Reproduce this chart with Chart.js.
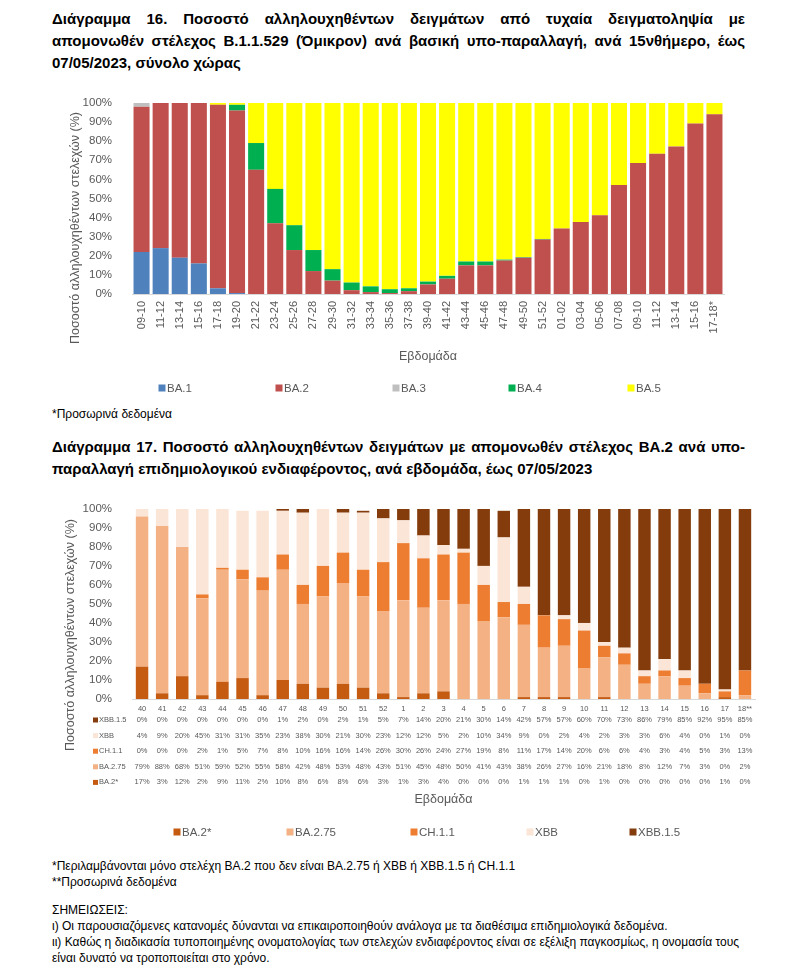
<!DOCTYPE html>
<html lang="el">
<head>
<meta charset="utf-8">
<script src="https://cdn.jsdelivr.net/npm/chart.js@4.4.1/dist/chart.umd.min.js"></script>
<style>
  body { margin:0; background:#fff; width:800px; height:979px; position:relative; overflow:hidden;
         font-family:'Liberation Sans Narrow','Liberation Sans',Arial,sans-serif; color:#000; }
  .title { position:absolute; left:52px; width:693px; font-weight:bold; font-size:15px; line-height:22px; }
  .title .ln { display:block; text-align:justify; text-align-last:justify; }
  .title .last { text-align-last:left; }
  .note { position:absolute; left:52px; width:700px; font-size:12px; line-height:16px; }
  .box { position:absolute; left:0; width:800px; }
</style>
</head>
<body>

<div class="title" style="top:8px">
  <span class="ln">Διάγραμμα 16. Ποσοστό αλληλουχηθέντων δειγμάτων από τυχαία δειγματοληψία με</span>
  <span class="ln">απομονωθέν στέλεχος B.1.1.529 (Όμικρον) ανά βασική υπο-παραλλαγή, ανά 15νθήμερο, έως</span>
  <span class="ln last">07/05/2023, σύνολο χώρας</span>
</div>

<div class="box" style="top:84px;height:316px"><canvas id="c16"></canvas></div>

<div class="note" style="top:406px">*Προσωρινά δεδομένα</div>

<div class="title" style="top:436px">
  <span class="ln">Διάγραμμα 17. Ποσοστό αλληλουχηθέντων δειγμάτων με απομονωθέν στέλεχος BA.2 ανά υπο-</span>
  <span class="ln last">παραλλαγή επιδημιολογικού ενδιαφέροντος, ανά εβδομάδα, έως 07/05/2023</span>
</div>

<div class="box" style="top:490px;height:355px"><canvas id="c17"></canvas></div>

<div class="note" style="top:858px">
  *Περιλαμβάνονται μόνο στελέχη BA.2 που δεν είναι BA.2.75 ή XBB ή XBB.1.5 ή CH.1.1<br>
  **Προσωρινά δεδομένα<br>
  <div style="height:12px"></div>
  ΣΗΜΕΙΩΣΕΙΣ:<br>
  ι) Οι παρουσιαζόμενες κατανομές δύνανται να επικαιροποιηθούν ανάλογα με τα διαθέσιμα επιδημιολογικά δεδομένα.<br>
  ιι) Καθώς η διαδικασία τυποποιημένης ονοματολογίας των στελεχών ενδιαφέροντος είναι σε εξέλιξη παγκοσμίως, η ονομασία τους<br>
  είναι δυνατό να τροποποιείται στο χρόνο.
</div>

<script>
// ---- Διάγραμμα 16 data (15-day periods)
const periods = ['09-10','11-12','13-14','15-16','17-18','19-20','21-22','23-24','25-26','27-28','29-30',
  '31-32','33-34','35-36','37-38','39-40','41-42','43-44','45-46','47-48','49-50','51-52',
  '01-02','03-04','05-06','07-08','09-10','11-12','13-14','15-16','17-18*'];
const ba1 = [22,24,19,16,3,0.5,0,0,0,0,0,0,0,0,0,0,0,0,0,0,0,0,0,0,0,0,0,0,0,0,0];
const ba2 = [76,76,81,84,96,95.5,65,37,23,12,7,2,1,0.5,1.5,5,8,15,15,17.5,19,28.5,34.3,37.7,41.2,57,68.5,73.4,77.2,89.2,94];
const ba3 = [2,0,0,0,0,0,0,0,0,0,0,0,0,0,0,0,0,0,0,0,0,0,0,0,0,0,0,0,0,0,0];
const ba4 = [0,0,0,0,0,3,14,18,13,11,6,4,3,2,1.5,1.5,1.5,2,2,0.5,0.3,0.3,0,0,0,0,0,0,0,0,0];
const ba5 = [0,0,0,0,1,1,21,45,64,77,87,94,96,97.5,97,93.5,90.5,83,83,82,80.7,71.2,65.7,62.3,58.8,43,31.5,26.6,22.8,10.8,6];

// ---- Διάγραμμα 17 data (weeks)
const weeks = ['40','41','42','43','44','45','46','47','48','49','50','51','52',
  '1','2','3','4','5','6','7','8','9','10','11','12','13','14','15','16','17','18**'];
const ba2star = [17,3,12,2,9,11,2,10,8,6,8,6,3,1,3,4,0,0,0,1,1,1,0,1,0,0,0,0,0,1,0];
const ba275   = [79,88,68,51,59,52,55,58,42,48,53,48,43,51,45,48,50,41,43,38,26,27,16,21,18,8,12,7,3,0,2];
const ch11    = [0,0,0,2,1,5,7,8,10,16,16,14,26,30,26,24,27,19,8,11,17,14,20,6,6,4,3,4,5,3,13];
const xbb     = [4,9,20,45,31,31,35,23,38,30,21,30,23,12,12,5,2,10,34,9,0,2,4,2,3,3,6,4,0,1,0];
const xbb15   = [0,0,0,0,0,0,0,1,2,0,2,1,5,7,14,20,21,30,14,42,57,57,60,70,73,86,79,85,92,95,85];

const FONT = "'Liberation Sans Narrow','Liberation Sans',Arial,sans-serif";
const GREY = '#595959';
Chart.defaults.font.family = FONT;
Chart.defaults.color = GREY;
Chart.defaults.animation = false;

const yTitleText = 'Ποσοστό αλληλουχηθέντων στελεχών (%)';

// y title drawn by hand, Excel centres it lower than the plot area
const yTitlePlugin = {
  id: 'yTitle',
  afterDraw(chart, args, opts) {
    const ctx = chart.ctx;
    ctx.save();
    ctx.translate(opts.x, opts.y);
    ctx.rotate(-Math.PI / 2);
    ctx.font = '12.5px ' + FONT;
    ctx.fillStyle = GREY;
    ctx.textAlign = 'center';
    ctx.textBaseline = 'middle';
    ctx.fillText(yTitleText, 0, 0);
    ctx.restore();
  }
};

// excel-like legend, items spread out at fixed x
const spreadLegend = {
  id: 'spreadLegend',
  afterDraw(chart, args, opts) {
    const ctx = chart.ctx;
    ctx.save();
    ctx.font = '11.5px ' + FONT;
    ctx.textBaseline = 'middle';
    ctx.textAlign = 'left';
    chart.data.datasets.forEach((ds, i) => {
      const x = opts.xs[i];
      ctx.fillStyle = ds.backgroundColor;
      ctx.fillRect(x - 3.5, opts.y - 3.5, 7, 7);
      ctx.fillStyle = GREY;
      ctx.fillText(ds.label, x + 5, opts.y + 0.5);
    });
    ctx.restore();
  }
};

// data table under chart 17
const tablePlugin = {
  id: 'dataTable',
  afterDraw(chart, args, opts) {
    if (!opts.show) return;
    const ctx = chart.ctx;
    const xs = chart.scales.x;
    const sets = chart.data.datasets.slice().reverse();
    ctx.save();
    ctx.font = '7.5px ' + FONT;
    ctx.textBaseline = 'middle';
    sets.forEach((ds, i) => {
      const y = chart.chartArea.bottom + opts.top + i * opts.step;
      ctx.fillStyle = ds.backgroundColor;
      ctx.fillRect(opts.left, y - 2.5, 5, 5);
      ctx.fillStyle = GREY;
      ctx.textAlign = 'left';
      ctx.fillText(ds.label, opts.left + 6, y);
      ctx.textAlign = 'center';
      ds.data.forEach((v, j) => {
        ctx.fillText(v + '%', xs.getPixelForValue(j), y);
      });
    });
    ctx.restore();
  }
};

function yAxis(width) {
  return {
    stacked: true, min: 0, max: 100,
    afterFit: s => { s.width = width; },
    grid: { display: false },
    border: { display: false },
    ticks: { stepSize: 10, autoSkip: false, callback: v => v + '%', font: { size: 11.5 }, padding: 12 }
  };
}

new Chart(document.getElementById('c16'), {
  type: 'bar',
  data: {
    labels: periods,
    datasets: [
      { label: 'BA.1', data: ba1, backgroundColor: '#4F81BD' },
      { label: 'BA.2', data: ba2, backgroundColor: '#C0504D' },
      { label: 'BA.3', data: ba3, backgroundColor: '#BFBFBF' },
      { label: 'BA.4', data: ba4, backgroundColor: '#00B050' },
      { label: 'BA.5', data: ba5, backgroundColor: '#FFFF00' }
    ]
  },
  options: {
    responsive: true, maintainAspectRatio: false,
    datasets: { bar: { barPercentage: 0.84, categoryPercentage: 1 } },
    layout: { padding: { left: 0, right: 76, top: 10, bottom: 36 } },
    scales: {
      x: {
        stacked: true,
        afterFit: s => { s.height = 70; },
        grid: { display: false, drawTicks: false },
        border: { color: '#D9D9D9' },
        ticks: { minRotation: 90, maxRotation: 90, autoSkip: false, font: { size: 11 }, padding: 7 },
        title: { display: true, text: 'Εβδομάδα', font: { size: 12.5 }, padding: { top: 4, bottom: 0 } }
      },
      y: yAxis(132)
    },
    plugins: {
      legend: { display: false },
      tooltip: { enabled: false },
      yTitle: { x: 76, y: 144 },
      spreadLegend: { xs: [162, 279, 396, 512, 631], y: 304 },
      dataTable: { show: false }
    }
  },
  plugins: [yTitlePlugin, spreadLegend, tablePlugin]
});

new Chart(document.getElementById('c17'), {
  type: 'bar',
  data: {
    labels: weeks,
    datasets: [
      { label: 'BA.2*', data: ba2star, backgroundColor: '#C55A11' },
      { label: 'BA.2.75', data: ba275, backgroundColor: '#F4B183' },
      { label: 'CH.1.1', data: ch11, backgroundColor: '#ED7D31' },
      { label: 'XBB', data: xbb, backgroundColor: '#FBE5D6' },
      { label: 'XBB.1.5', data: xbb15, backgroundColor: '#843C0C' }
    ]
  },
  options: {
    responsive: true, maintainAspectRatio: false,
    datasets: { bar: { barPercentage: 0.62, categoryPercentage: 1 } },
    layout: { padding: { left: 0, right: 45, top: 8, bottom: 38 } },
    scales: {
      x: {
        stacked: true,
        afterFit: s => { s.height = 108; },
        grid: { display: false, drawTicks: false },
        border: { color: '#D9D9D9' },
        ticks: { maxRotation: 0, autoSkip: false, font: { size: 7.5 }, padding: 5 },
        title: { display: true, text: 'Εβδομάδα', font: { size: 12.5 }, padding: { top: 4, bottom: 0 } }
      },
      y: yAxis(132)
    },
    plugins: {
      legend: { display: false },
      tooltip: { enabled: false },
      yTitle: { x: 71, y: 145 },
      spreadLegend: { xs: [177, 290, 414, 530, 633], y: 342 },
      dataTable: { show: true, left: 93, top: 21, step: 15.6 }
    }
  },
  plugins: [yTitlePlugin, spreadLegend, tablePlugin]
});
</script>
</body>
</html>
